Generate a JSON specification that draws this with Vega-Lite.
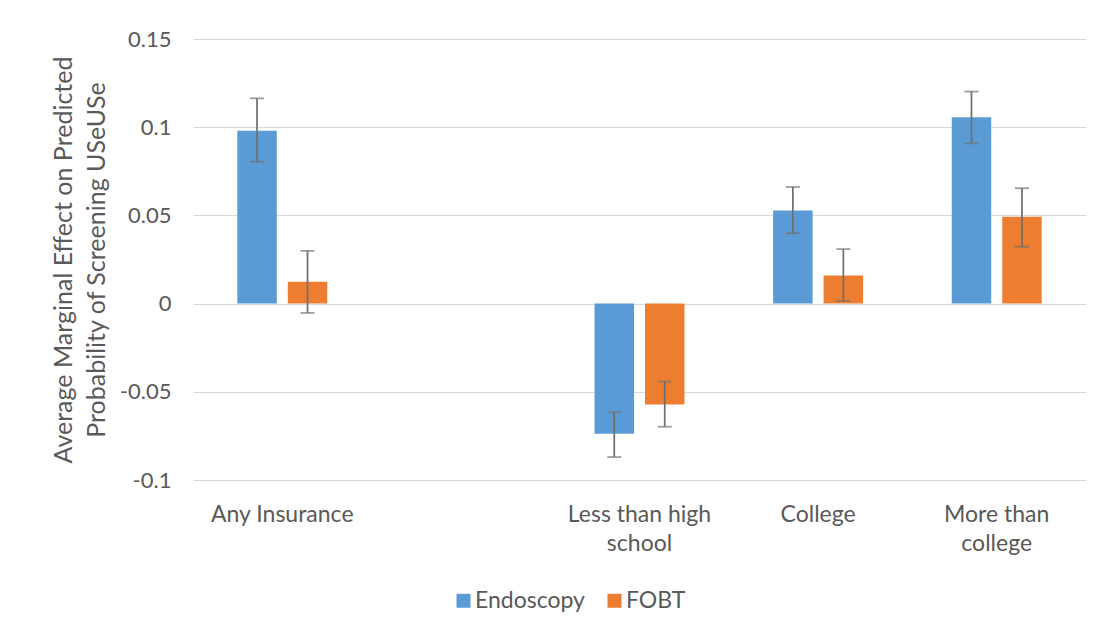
{
  "$schema": "https://vega.github.io/schema/vega-lite/v6.json",
  "width": 893,
  "height": 441,
  "autosize": {"type": "none"},
  "padding": {"left": 193, "top": 39, "right": 20, "bottom": 155},
  "background": "white",
  "data": {
    "values": [
      {"category": "Any Insurance", "series": "Endoscopy", "value": 0.098, "lo": 0.0805, "hi": 0.1164},
      {"category": "Any Insurance", "series": "FOBT", "value": 0.0124, "lo": -0.0053, "hi": 0.0299},
      {"category": "Less than high school", "series": "Endoscopy", "value": -0.0738, "lo": -0.087, "hi": -0.0616},
      {"category": "Less than high school", "series": "FOBT", "value": -0.0572, "lo": -0.0698, "hi": -0.0442},
      {"category": "College", "series": "Endoscopy", "value": 0.0528, "lo": 0.0399, "hi": 0.0661},
      {"category": "College", "series": "FOBT", "value": 0.016, "lo": 0.0015, "hi": 0.0309},
      {"category": "More than college", "series": "Endoscopy", "value": 0.1056, "lo": 0.0908, "hi": 0.1202},
      {"category": "More than college", "series": "FOBT", "value": 0.0492, "lo": 0.0322, "hi": 0.0654}
    ]
  },
  "encoding": {
    "x": {
      "field": "category",
      "type": "nominal",
      "sort": null,
      "scale": {
        "domain": ["Any Insurance", "", "Less than high school", "College", "More than college"],
        "paddingInner": 0.4963,
        "paddingOuter": 0.248
      },
      "axis": {
        "title": null,
        "domain": false,
        "ticks": false,
        "labelAngle": 0,
        "labelPadding": 23,
        "labelFontSize": 23,
        "labelFont": "Lato",
        "labelColor": "#595959",
        "labelLineHeight": 29,
        "labelBaseline": "top",
        "labelExpr": "datum.value == 'Less than high school' ? ['Less than high', 'school'] : datum.value == 'More than college' ? ['More than', 'college'] : datum.value"
      }
    },
    "xOffset": {
      "field": "series",
      "type": "nominal",
      "scale": {"domain": ["Endoscopy", "FOBT"], "paddingInner": 0.218, "paddingOuter": 0}
    }
  },
  "layer": [
    {
      "mark": {"type": "bar"},
      "encoding": {
        "y": {
          "field": "value",
          "type": "quantitative",
          "title": ["Average Marginal Effect on Predicted", "Probability of Screening USeUSe"],
          "scale": {"domain": [-0.1, 0.15], "nice": false, "zero": false},
          "axis": {
            "values": [-0.1, -0.05, 0, 0.05, 0.1, 0.15],
            "domain": false,
            "ticks": false,
            "grid": true,
            "gridColor": "#D9D9D9",
            "gridWidth": 1.2,
            "labelPadding": 22,
            "labelFontSize": 22,
            "labelFont": "Lato",
            "labelColor": "#595959",
            "labelExpr": "toString(round(datum.value * 100) / 100)",
            "titleFontSize": 25,
            "titleFont": "Lato",
            "titleColor": "#595959",
            "titleFontWeight": "normal",
            "titlePadding": 10,
            "titleLineHeight": 33
          }
        },
        "color": {
          "field": "series",
          "type": "nominal",
          "scale": {"domain": ["Endoscopy", "FOBT"], "range": ["#5B9BD5", "#ED7D31"]},
          "legend": {
            "orient": "none",
            "legendX": 259,
            "legendY": 550,
            "direction": "horizontal",
            "title": null,
            "symbolType": "square",
            "symbolSize": 196,
            "symbolStrokeWidth": 0,
            "labelFontSize": 23,
            "labelFont": "Lato",
            "labelColor": "#595959",
            "columnPadding": 18,
            "labelOffset": 0
          }
        }
      }
    },
    {
      "mark": {"type": "rule", "color": "#707070", "strokeWidth": 1.75},
      "encoding": {
        "y": {"field": "lo", "type": "quantitative", "title": ["Average Marginal Effect on Predicted", "Probability of Screening USeUSe"]},
        "y2": {"field": "hi"}
      }
    },
    {
      "mark": {"type": "tick", "color": "#707070", "thickness": 1.75, "size": 14},
      "encoding": {
        "y": {"field": "lo", "type": "quantitative", "title": ["Average Marginal Effect on Predicted", "Probability of Screening USeUSe"]}
      }
    },
    {
      "mark": {"type": "tick", "color": "#707070", "thickness": 1.75, "size": 14},
      "encoding": {
        "y": {"field": "hi", "type": "quantitative", "title": ["Average Marginal Effect on Predicted", "Probability of Screening USeUSe"]}
      }
    }
  ],
  "config": {"view": {"stroke": null}}
}
